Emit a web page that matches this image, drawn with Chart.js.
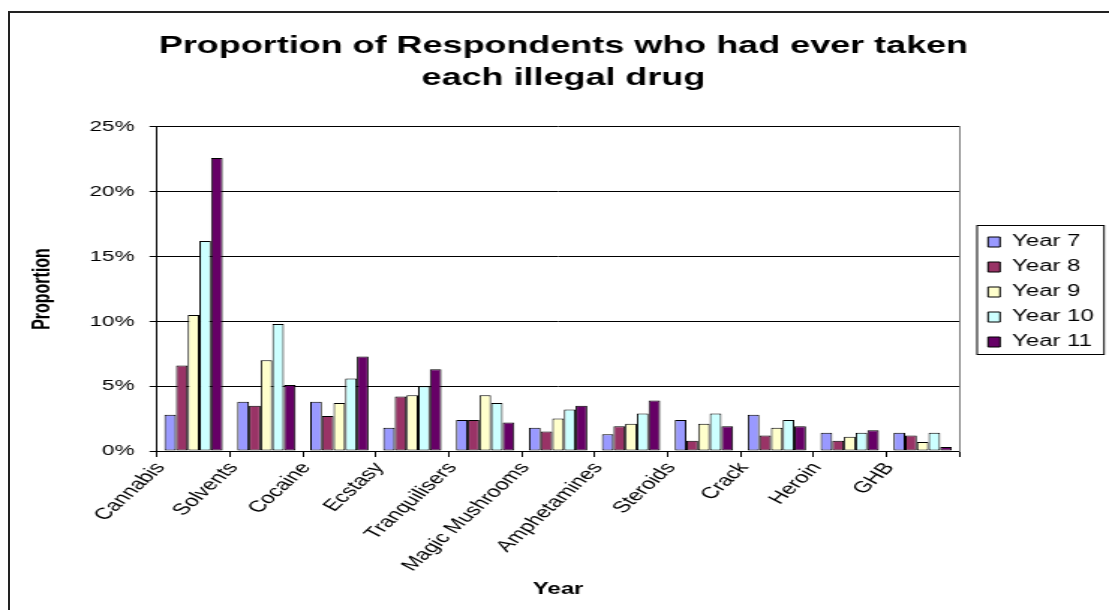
<!DOCTYPE html>
<html>
<head>
<meta charset="utf-8">
<script src="https://cdn.jsdelivr.net/npm/chart.js@4.4.1/dist/chart.umd.min.js"></script>
<style>
  html, body { margin: 0; padding: 0; background: #fff; overflow: hidden; width: 1109px; height: 610px; }
  #frame { position: absolute; left: 8px; top: 11px; width: 1200px; height: 700px;
           border-top: 2px solid #222; border-left: 2px solid #222; }
  /* the chart is laid out narrow and widened, so all text comes out broad like the old Excel export */
  #c { position: absolute; left: 0; top: 0; transform: scaleX(1.4986); transform-origin: 0 0; }
</style>
</head>
<body>
<div id="frame"></div>
<canvas id="c" width="740" height="610"></canvas>
<script>
const drugs = ['Cannabis', 'Solvents', 'Cocaine', 'Ecstasy', 'Tranquilisers', 'Magic Mushrooms',
  'Amphetamines', 'Steroids', 'Crack', 'Heroin', 'GHB'];

// percent of respondents per school year
const year7  = [2.8, 3.8, 3.8, 1.8, 2.4, 1.8, 1.3, 2.4, 2.8, 1.4, 1.4];
const year8  = [6.6, 3.5, 2.7, 4.2, 2.4, 1.5, 1.9, 0.8, 1.2, 0.8, 1.2];
const year9  = [10.5, 7.0, 3.7, 4.3, 4.3, 2.5, 2.1, 2.1, 1.8, 1.1, 0.7];
const year10 = [16.2, 9.8, 5.6, 5.0, 3.7, 3.2, 2.9, 2.9, 2.4, 1.4, 1.4];
const year11 = [22.6, 5.1, 7.3, 6.3, 2.2, 3.5, 3.9, 1.9, 1.9, 1.6, 0.3];

const seriesNames = ['Year 7', 'Year 8', 'Year 9', 'Year 10', 'Year 11'];
const seriesColors = ['#9999FF', '#993366', '#FFFFCC', '#CCFFFF', '#660066'];
const yTicks = [0, 5, 10, 15, 20, 25];

const FONT = "'Liberation Sans', Arial, sans-serif";

const datasets = [year7, year8, year9, year10, year11].map((vals, i) => ({
  label: seriesNames[i],
  data: vals,
  backgroundColor: seriesColors[i],
  borderColor: '#000',
  borderWidth: 1,
  borderSkipped: false,
  categoryPercentage: 0.8,
  barPercentage: 1.0
}));

// moves the legend to its boxed spot beside the plot and frames it
const legendBox = {
  id: 'legendBox',
  afterLayout(chart) {
    const lg = chart.legend;
    const dx = 650.3 - lg.left, dy = 225 - lg.top;
    lg.left += dx; lg.right += dx; lg.top += dy; lg.bottom += dy;
  },
  afterDraw(chart) {
    const lg = chart.legend, ctx = chart.ctx;
    ctx.save();
    ctx.strokeStyle = '#000';
    ctx.lineWidth = 1;
    ctx.strokeRect(lg.left + 1.7, lg.top + 0.5, 84.7, 129);
    ctx.restore();
  }
};

new Chart(document.getElementById('c'), {
  type: 'bar',
  data: { labels: drugs, datasets },
  options: {
    responsive: false,
    animation: false,
    devicePixelRatio: 1,
    layout: { padding: { left: 15, top: 15, right: 3, bottom: 6.4 } },
    plugins: {
      title: {
        display: true,
        text: ['Proportion of Respondents who had ever taken', 'each illegal drug'],
        color: '#000',
        font: { family: FONT, size: 24, weight: 'bold', lineHeight: 1.333 },
        padding: { top: 15, bottom: 33 }
      },
      legend: {
        position: 'chartArea',
        align: 'start',
        labels: {
          color: '#000',
          font: { family: FONT, size: 16 },
          boxWidth: 8,
          boxHeight: 10,
          padding: 9
        }
      },
      tooltip: { enabled: false }
    },
    scales: {
      x: {
        grid: { drawOnChartArea: false, tickLength: 6, color: '#000', offset: true },
        border: { color: '#000', width: 1 },
        ticks: {
          autoSkip: false,
          maxRotation: 53,
          minRotation: 53,
          labelOffset: -22,
          padding: 2,
          color: '#000',
          font: { family: FONT, size: 16 }
        },
        title: {
          display: true,
          text: 'Year',
          color: '#000',
          font: { family: FONT, size: 16, weight: 'bold' },
          padding: 4
        },
        afterFit(s) { s.height = 152.6; }
      },
      y: {
        min: 0,
        max: 25,
        afterBuildTicks(s) { s.ticks = yTicks.map(v => ({ value: v })); },
        grid: { color: '#000', tickLength: 5 },
        border: { color: '#000', width: 1 },
        ticks: {
          padding: 10,
          color: '#000',
          font: { family: FONT, size: 15 },
          callback: v => v + '%'
        },
        title: {
          display: true,
          text: 'Proportion',
          color: '#000',
          font: { family: FONT, size: 16, weight: 'bold' },
          padding: 4
        },
        afterFit(s) { s.width = 89.8; }
      },
      yRight: {
        position: 'right',
        min: 0,
        max: 25,
        grid: { display: false },
        ticks: { display: false },
        border: { color: '#808080', width: 1 },
        afterFit(s) { s.width = 97; }
      }
    }
  },
  plugins: [legendBox]
});
</script>
</body>
</html>
